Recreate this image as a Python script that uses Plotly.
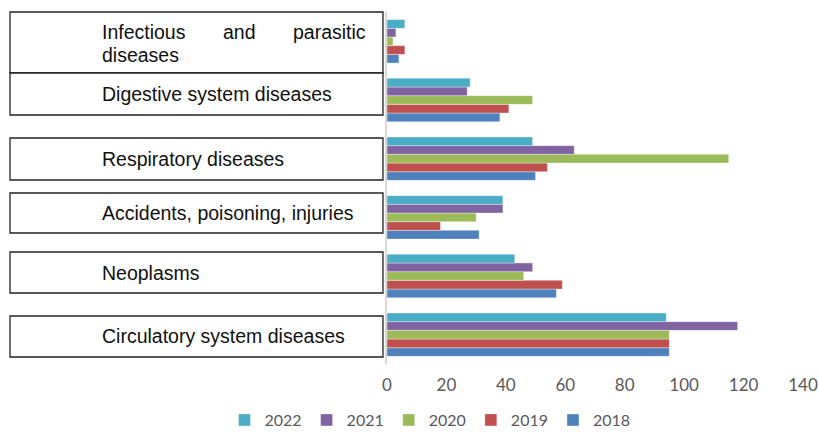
import plotly.graph_objects as go

categories = ["Circulatory system diseases", "Neoplasms", "Accidents, poisoning, injuries",
              "Respiratory diseases", "Digestive system diseases", "Infectious and parasitic diseases"]
years = ["2018", "2019", "2020", "2021", "2022"]
v2018 = [95, 57, 31, 50, 38, 4]
v2019 = [95, 59, 18, 54, 41, 6]
v2020 = [95, 46, 30, 115, 49, 2]
v2021 = [118, 49, 39, 63, 27, 3]
v2022 = [94, 43, 39, 49, 28, 6]
series = [v2018, v2019, v2020, v2021, v2022]
colors = ["#4F81BD", "#C0504D", "#9BBB59", "#8064A2", "#4BACC6"]
x_ticks = [0, 20, 40, 60, 80, 100, 120, 140]

W, H = 819, 437
L, R, T, B = 387, 16, 12, 73
PW, PH = W - L - R, H - T - B

def px(x):
    return (x - L) / PW

def py(y):
    return (H - B - y) / PH

fig = go.Figure()
for yr, vals, c in zip(years, series, colors):
    fig.add_trace(go.Bar(y=categories, x=vals, name=yr, orientation="h",
                         marker=dict(color=c, line=dict(color="rgba(255,255,255,0.45)", width=0.8))))

# label boxes (left side)
boxes = [(12, 73), (73, 115), (138, 180), (193, 233), (252, 293), (316, 357)]
for y0, y1 in boxes:
    fig.add_shape(type="rect", xref="paper", yref="paper", x0=px(10), x1=px(383),
                  y0=py(y1), y1=py(y0), line=dict(color="#222222", width=1.3),
                  fillcolor="white", layer="above")

lab_font = dict(family="Liberation Sans, Arial, sans-serif", size=19.5, color="#111111")
labels = [("Digestive system diseases", 94), ("Respiratory diseases", 159),
          ("Accidents, poisoning, injuries", 213), ("Neoplasms", 273),
          ("Circulatory system diseases", 336), ("diseases", 55)]
for txt, yy in labels:
    fig.add_annotation(text=txt, xref="paper", yref="paper", x=px(100), y=py(yy),
                       xanchor="left", yanchor="middle", showarrow=False, font=lab_font)
# justified first line of the first label
fig.add_annotation(text="Infectious", xref="paper", yref="paper", x=px(100), y=py(32),
                   xanchor="left", yanchor="middle", showarrow=False, font=lab_font)
fig.add_annotation(text="and", xref="paper", yref="paper", x=px(239), y=py(32),
                   xanchor="center", yanchor="middle", showarrow=False, font=lab_font)
fig.add_annotation(text="parasitic", xref="paper", yref="paper", x=px(368), y=py(32),
                   xanchor="right", yanchor="middle", showarrow=False, font=lab_font)

tick_font = dict(family="Lato, sans-serif", size=17, color="#595959")
fig.update_layout(
    width=W, height=H, margin=dict(l=L, r=R, t=T, b=B, autoexpand=False),
    paper_bgcolor="white", plot_bgcolor="white",
    barmode="group", bargap=0.26, bargroupgap=0,
    showlegend=True,
    legend=dict(orientation="h", traceorder="reversed", xref="container", yref="container",
                x=0.525, y=0.0, xanchor="center", yanchor="bottom",
                tracegroupgap=0, itemwidth=30,
                font=dict(family="Lato, sans-serif", size=16, color="#595959")),
    xaxis=dict(range=[0, 140], tickvals=x_ticks, showgrid=False, zeroline=False,
               showline=False, ticks="outside", ticklen=6, tickcolor="rgba(0,0,0,0)",
               tickfont=tick_font, fixedrange=True),
    yaxis=dict(categoryorder="array", categoryarray=categories, showticklabels=False,
               showgrid=False, zeroline=False, showline=True, linecolor="#D9D9D9",
               linewidth=1.5, ticks="", fixedrange=True),
)
fig.write_html("out.html")
